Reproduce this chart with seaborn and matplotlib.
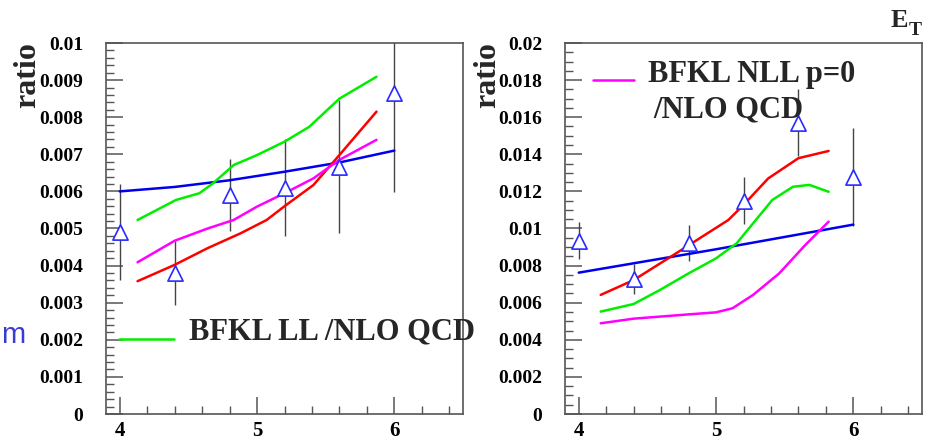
import matplotlib
matplotlib.use("Agg")
import matplotlib.pyplot as plt
import seaborn as sns
import pandas as pd
from matplotlib.ticker import MultipleLocator, FixedLocator, FixedFormatter
from matplotlib.lines import Line2D

# ---------------- data ----------------
pts_x = [4.0, 4.4, 4.8, 5.2, 5.6, 6.0]
left_pts_y = [0.0049, 0.0038, 0.0059, 0.0061, 0.00667, 0.00866]
left_pts_err = [0.0013, 0.00085, 0.00098, 0.0013, 0.0018, 0.00267]
right_pts_y = [0.00934, 0.00728, 0.0092, 0.0115, 0.0157, 0.01276]
right_pts_err = [0.001, 0.00083, 0.00097, 0.00128, 0.0018, 0.00265]

left_blue_x = [4.0, 4.4, 4.8, 5.2, 5.6, 6.0]
left_blue_y = [0.0060, 0.00612, 0.0063, 0.00653, 0.00678, 0.0071]
left_green_x = [4.13, 4.41, 4.58, 4.68, 4.83, 5.0, 5.2, 5.38, 5.6, 5.87]
left_green_y = [0.00523, 0.00577, 0.00595, 0.00622, 0.00671, 0.00698, 0.00734, 0.00774, 0.0085, 0.00909]
left_red_x = [4.13, 4.4, 4.64, 4.88, 5.07, 5.2, 5.41, 5.6, 5.87]
left_red_y = [0.00358, 0.00402, 0.00447, 0.00487, 0.00523, 0.0056, 0.00617, 0.00698, 0.00815]
left_mag_x = [4.13, 4.4, 4.64, 4.83, 5.0, 5.2, 5.41, 5.6, 5.87]
left_mag_y = [0.00409, 0.00467, 0.005, 0.00523, 0.00559, 0.00595, 0.00635, 0.00685, 0.00739]

right_blue_x = [4.0, 5.0, 6.0]
right_blue_y = [0.00762, 0.00888, 0.01021]
right_red_x = [4.16, 4.4, 4.69, 4.88, 5.09, 5.2, 5.38, 5.6, 5.82]
right_red_y = [0.00642, 0.00722, 0.00857, 0.00947, 0.01046, 0.01127, 0.0127, 0.01379, 0.01418]
right_green_x = [4.16, 4.4, 4.59, 4.8, 5.0, 5.15, 5.29, 5.41, 5.56, 5.68, 5.82]
right_green_y = [0.00552, 0.00593, 0.00668, 0.00758, 0.00839, 0.0092, 0.01046, 0.01154, 0.01225, 0.01235, 0.01198]
right_mag_x = [4.16, 4.4, 4.8, 5.0, 5.12, 5.27, 5.46, 5.65, 5.82]
right_mag_y = [0.00489, 0.00514, 0.00537, 0.00548, 0.0057, 0.00642, 0.00758, 0.00911, 0.01037]

x_ticks = [4, 5, 6]
x_tick_labels = ["4", "5", "6"]
left_y_ticks = [0, 0.001, 0.002, 0.003, 0.004, 0.005, 0.006, 0.007, 0.008, 0.009, 0.01]
left_y_labels = ["0", "0.001", "0.002", "0.003", "0.004", "0.005", "0.006", "0.007", "0.008", "0.009", "0.01"]
right_y_ticks = [0, 0.002, 0.004, 0.006, 0.008, 0.01, 0.012, 0.014, 0.016, 0.018, 0.02]
right_y_labels = ["0", "0.002", "0.004", "0.006", "0.008", "0.01", "0.012", "0.014", "0.016", "0.018", "0.02"]

left_legend = "BFKL LL /NLO QCD"
right_legend_1 = "BFKL NLL p=0"
right_legend_2 = "/NLO QCD"
y_label = "ratio"

# ---------------- style ----------------
sns.set_theme(style="white")
plt.rcParams["font.family"] = ["Liberation Serif", "DejaVu Serif"]
plt.rcParams["font.weight"] = "bold"

W, H = 932, 440
fig = plt.figure(figsize=(W / 100, H / 100), dpi=100)
fig.patch.set_facecolor("white")

def px_axes(x0, x1, y0, y1):
    return fig.add_axes([x0 / W, 1 - y1 / H, (x1 - x0) / W, (y1 - y0) / H])

axL = px_axes(106, 463, 43, 414)
axR = px_axes(565, 922, 43, 414)

BLUE = "#0000ee"
RED = "#ff0000"
GREEN = "#00ee00"
MAG = "#ff00ff"
FRAME = "#555555"

def curve(ax, xs, ys, color):
    df = pd.DataFrame({"x": xs, "y": ys})
    sns.lineplot(data=df, x="x", y="y", ax=ax, color=color, lw=1.8,
                 sort=False, estimator=None, zorder=3)

def points(ax, ys, errs):
    ax.errorbar(pts_x, ys, yerr=errs, fmt="none", ecolor="#444444",
                elinewidth=1.0, capsize=0, zorder=2)
    df = pd.DataFrame({"x": pts_x, "y": ys})
    sns.scatterplot(data=df, x="x", y="y", ax=ax, marker="^", s=120,
                    facecolor="white", edgecolor="#2a2aff", linewidth=1.2,
                    zorder=5)

def style(ax, yticks, ylabels, ymax, yminor):
    ax.set_xlim(3.9, 6.5)
    ax.set_ylim(0, ymax)
    ax.xaxis.set_major_locator(FixedLocator(x_ticks))
    ax.xaxis.set_major_formatter(FixedFormatter(x_tick_labels))
    ax.xaxis.set_minor_locator(MultipleLocator(0.2))
    ax.yaxis.set_major_locator(FixedLocator(yticks))
    ax.yaxis.set_major_formatter(FixedFormatter(ylabels))
    ax.yaxis.set_minor_locator(MultipleLocator(yminor))
    ax.set_xlabel("")
    ax.set_ylabel("")
    for s in ax.spines.values():
        s.set_visible(True)
        s.set_color(FRAME)
        s.set_linewidth(1.2)
    ax.tick_params(axis="both", which="both", direction="in", color=FRAME,
                   top=False, right=False, left=True, bottom=True)
    ax.tick_params(axis="both", which="major", length=12, width=1.1)
    ax.tick_params(axis="both", which="minor", length=6, width=1.0)
    ax.tick_params(axis="y", which="major", pad=16.5, labelsize=14)
    ax.tick_params(axis="x", which="major", pad=5, labelsize=15)
    for lab in ax.get_xticklabels() + ax.get_yticklabels():
        lab.set_fontweight("bold")
        lab.set_color("black")
    ax.set_facecolor("white")
    ax.grid(False)

# left panel
curve(axL, left_blue_x, left_blue_y, BLUE)
curve(axL, left_green_x, left_green_y, GREEN)
curve(axL, left_red_x, left_red_y, RED)
curve(axL, left_mag_x, left_mag_y, MAG)
points(axL, left_pts_y, left_pts_err)
style(axL, left_y_ticks, left_y_labels, 0.01, 0.0002)

# right panel
curve(axR, right_blue_x, right_blue_y, BLUE)
curve(axR, right_red_x, right_red_y, RED)
curve(axR, right_green_x, right_green_y, GREEN)
curve(axR, right_mag_x, right_mag_y, MAG)
points(axR, right_pts_y, right_pts_err)
style(axR, right_y_ticks, right_y_labels, 0.02, 0.0005)

# legends
axL.add_line(Line2D([0.036, 0.19], [0.202, 0.202], transform=axL.transAxes,
                    color=GREEN, lw=1.8, zorder=6))
axL.text(0.2325, 0.202, left_legend, transform=axL.transAxes, fontsize=22,
         fontweight="bold", ha="left", va="baseline", clip_on=False, zorder=6)

axR.add_line(Line2D([0.078, 0.193], [0.9003, 0.9003], transform=axR.transAxes,
                    color=MAG, lw=1.8, zorder=6))
axR.text(0.2336, 0.8957, right_legend_1, transform=axR.transAxes, fontsize=22,
         fontweight="bold", ha="left", va="baseline", clip_on=False, zorder=6)
axR.text(0.248, 0.7997, right_legend_2, transform=axR.transAxes, fontsize=22,
         fontweight="bold", ha="left", va="baseline", clip_on=False, zorder=6)

# y labels
fig.text(27.5 / W, 1 - 42 / H, y_label, rotation=90, ha="center", va="top",
         fontsize=23, fontweight="bold")
fig.text(487.5 / W, 1 - 42 / H, y_label, rotation=90, ha="center", va="top",
         fontsize=23, fontweight="bold")

# E_T
fig.text(891 / W, 1 - 27 / H, "E", ha="left", va="baseline", fontsize=19,
         fontweight="bold")
fig.text(909 / W, 1 - 35 / H, "T", ha="left", va="baseline", fontsize=14,
         fontweight="bold")

# stray blue "m" at the left edge
fig.text(1 / W, 1 - 343 / H, "m", ha="left", va="baseline", fontsize=21,
         color="#3b3bd0", family="Liberation Sans", fontweight="normal")

fig.savefig("out.png", dpi=100, facecolor="white")
